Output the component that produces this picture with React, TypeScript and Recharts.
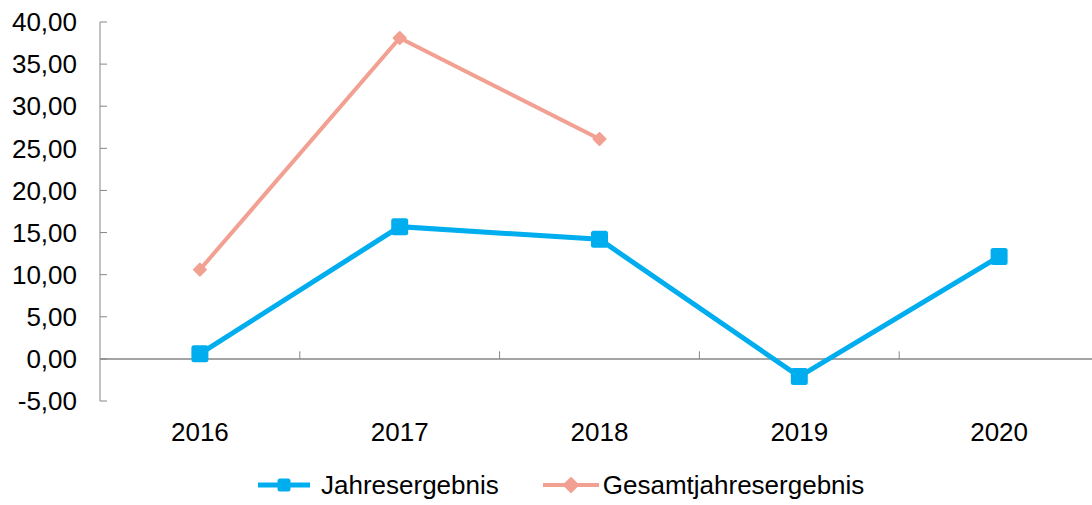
import { Legend, Line, LineChart, ReferenceLine, XAxis, YAxis } from "recharts";

// values
const years = ["2016", "2017", "2018", "2019", "2020"];
const jahresergebnis = [0.6, 15.7, 14.2, -2.1, 12.15];
const gesamtjahresergebnis: (number | null)[] = [10.6, 38.1, 26.1, null, null];
const yTicks = [-5, 0, 5, 10, 15, 20, 25, 30, 35, 40];

const BLUE = "#00ADEE";
const SALMON = "#F2A092";
const AXIS = "#868686";
const FONT = "'Liberation Sans', Arial, sans-serif";

const seriesOrder = ["jahresergebnis", "gesamtjahresergebnis"];

const rows = years.map((year, i) => ({
  year,
  jahresergebnis: jahresergebnis[i],
  gesamtjahresergebnis: gesamtjahresergebnis[i],
}));

// Excel draws small tick marks on the zero line between the categories;
// position="start" puts a reference line on the left edge of a band
const boundaries = years.slice(1);
const TICK_UNITS = 0.9;

const fmt = (v: number) => v.toFixed(2).replace(".", ",");

function Square({ cx, cy, size, color }: { cx: number; cy: number; size: number; color: string }) {
  return <rect x={cx - size / 2} y={cy - size / 2} width={size} height={size} rx={2.5} fill={color} />;
}

function Diamond({ cx, cy, r, color }: { cx: number; cy: number; r: number; color: string }) {
  const pts = `${cx},${cy - r} ${cx + r},${cy} ${cx},${cy + r} ${cx - r},${cy}`;
  return <polygon points={pts} fill={color} stroke={color} strokeWidth={2} strokeLinejoin="round" />;
}

function squareDot(p: any) {
  if (p.cx == null || p.cy == null || p.value == null) return <g key={p.key} />;
  return <Square key={p.key} cx={p.cx} cy={p.cy} size={17} color={BLUE} />;
}

function diamondDot(p: any) {
  if (p.cx == null || p.cy == null || p.value == null) return <g key={p.key} />;
  return <Diamond key={p.key} cx={p.cx} cy={p.cy} r={6} color={SALMON} />;
}

function LegendContent({ payload }: { payload?: any[] }) {
  const items = [...(payload ?? [])].sort(
    (a, b) => seriesOrder.indexOf(a.dataKey) - seriesOrder.indexOf(b.dataKey)
  );
  return (
    <div
      style={{
        display: "flex",
        alignItems: "center",
        height: 34,
        paddingLeft: 258,
        fontFamily: FONT,
        fontSize: 26,
        color: "#000",
      }}
    >
      {items.map((item, i) => {
        const blue = item.dataKey === "jahresergebnis";
        const w = blue ? 52 : 56;
        return (
          <div key={item.value} style={{ display: "flex", alignItems: "center", marginLeft: i ? 44 : 0 }}>
            <svg width={w} height={20} style={{ marginRight: blue ? 11 : 4 }}>
              <line x1={0} y1={10} x2={w} y2={10} stroke={item.color} strokeWidth={blue ? 5 : 4} />
              {blue ? (
                <Square cx={w / 2} cy={10} size={13} color={item.color} />
              ) : (
                <Diamond cx={w / 2} cy={10} r={7} color={item.color} />
              )}
            </svg>
            <span>{item.value}</span>
          </div>
        );
      })}
    </div>
  );
}

export default function App() {
  const tick = { fill: "#000", fontSize: 26, fontFamily: FONT };
  return (
    <div style={{ position: "absolute", left: 0, top: 0, width: 1092, height: 505, overflow: "hidden", background: "#fff" }}>
      <LineChart width={1100} height={505} data={rows} margin={{ top: 22, right: 1, bottom: 3, left: 0 }}>
        <XAxis
          dataKey="year"
          scale="band"
          axisLine={false}
          tickLine={false}
          tickSize={0}
          tickMargin={22}
          height={67}
          interval={0}
          tick={tick}
        />
        <YAxis
          width={100}
          domain={[-5, 40]}
          ticks={yTicks}
          interval={0}
          tickFormatter={fmt}
          tick={tick}
          tickSize={-7}
          tickMargin={30}
          axisLine={{ stroke: AXIS }}
          tickLine={{ stroke: AXIS }}
        />
        <ReferenceLine y={0} stroke={AXIS} strokeWidth={1.5} />
        {boundaries.map((b) => (
          <ReferenceLine
            key={b}
            position="start"
            segment={[
              { x: b, y: 0 },
              { x: b, y: TICK_UNITS },
            ]}
            stroke={AXIS}
          />
        ))}
        <Line
          dataKey="jahresergebnis"
          name="Jahresergebnis"
          stroke={BLUE}
          strokeWidth={5}
          dot={squareDot}
          activeDot={false}
          isAnimationActive={false}
        />
        <Line
          dataKey="gesamtjahresergebnis"
          name="Gesamtjahresergebnis"
          stroke={SALMON}
          strokeWidth={4}
          dot={diamondDot}
          activeDot={false}
          isAnimationActive={false}
        />
        <Legend verticalAlign="bottom" align="left" content={(p: any) => <LegendContent payload={p.payload} />} />
      </LineChart>
    </div>
  );
}
